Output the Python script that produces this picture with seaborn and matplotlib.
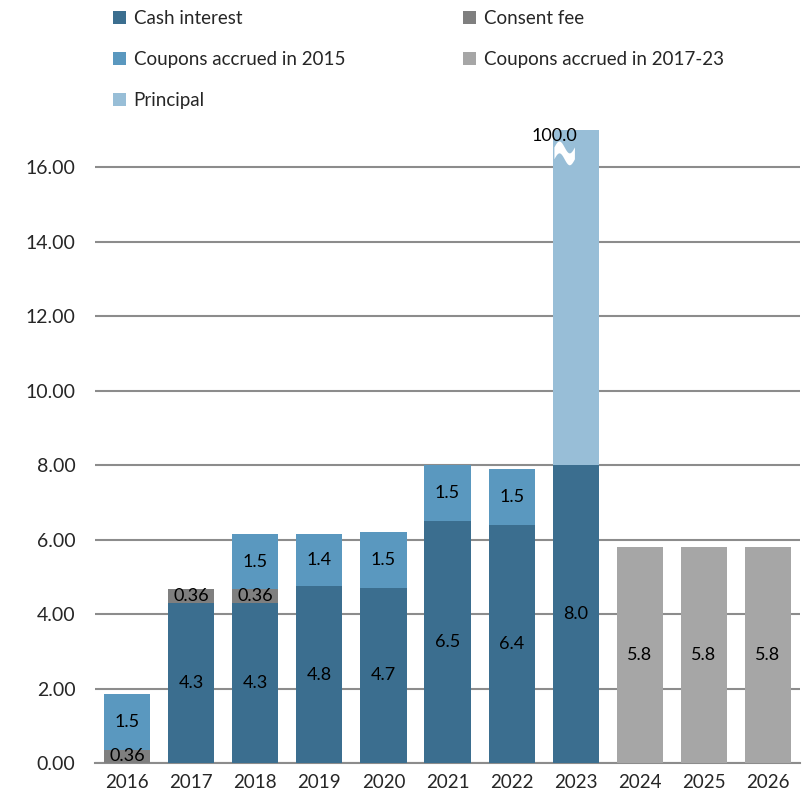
import numpy as np
import pandas as pd
import seaborn as sns
import matplotlib.pyplot as plt

# data
years = ["2016", "2017", "2018", "2019", "2020", "2021", "2022", "2023", "2024", "2025", "2026"]
cash_interest = [0, 4.3, 4.3, 4.75, 4.7, 6.5, 6.4, 8.0, 0, 0, 0]
consent_fee = [0.36, 0.36, 0.36, 0, 0, 0, 0, 0, 0, 0, 0]
coupons_2015 = [1.5, 0, 1.5, 1.4, 1.5, 1.5, 1.5, 0, 0, 0, 0]
coupons_2017_23 = [0, 0, 0, 0, 0, 0, 0, 0, 5.8, 5.8, 5.8]
principal = [0, 0, 0, 0, 0, 0, 0, 100.0, 0, 0, 0]

series = [
    ("Cash interest", cash_interest, "#3B6E8F"),
    ("Consent fee", consent_fee, "#7F7F7F"),
    ("Coupons accrued in 2015", coupons_2015, "#5A98BF"),
    ("Coupons accrued in 2017-23", coupons_2017_23, "#A6A6A6"),
    ("Principal", principal, "#98BED7"),
]

sns.set_style("white")
plt.rcParams["font.family"] = ["Lato", "DejaVu Sans"]

fig = plt.figure(figsize=(8.02, 8.0), dpi=100)
ax = fig.add_axes([0.1185, 0.0463, 0.879, 0.791])

YMAX = 17.0
bottom = np.zeros(len(years))
for name, vals, color in series:
    vals = np.array(vals, dtype=float)
    df = pd.DataFrame({"year": years, "val": vals})
    sns.barplot(data=df, x="year", y="val", order=years, color=color,
                bottom=bottom, width=0.72, ax=ax, label=name, legend=False,
                saturation=1, edgecolor="none", linewidth=0, zorder=3)
    for i, v in enumerate(vals):
        if v <= 0:
            continue
        if name == "Principal":
            ax.text(i - 0.34, 16.83, f"{v:.1f}", ha="center", va="center",
                    fontsize=13, color="black", zorder=6)
        else:
            txt = f"{v:.2f}" if v < 1 else f"{v:.1f}"
            ax.text(i, bottom[i] + v / 2, txt, ha="center", va="center",
                    fontsize=13, color="black", zorder=6)
    bottom += vals

if ax.get_legend() is not None:
    ax.get_legend().remove()

# axis break mark on the clipped principal bar
i23 = years.index("2023")
xs = np.linspace(i23 - 0.34, i23 - 0.02, 60)
ph = (xs - xs[0]) / (xs[-1] - xs[0]) * 2 * np.pi
top_edge = 16.55 + 0.16 * np.sin(ph)
ax.fill_between(xs, top_edge - 0.32, top_edge, color="white", zorder=5,
                linewidth=0)

ax.set_ylim(0, YMAX)
ax.set_xlim(-0.5, 10.5)
ax.set_yticks(np.arange(0, 17, 2))
ax.set_yticklabels([f"{t:.2f}" for t in np.arange(0, 17, 2)], fontsize=14)
ax.tick_params(axis="x", labelsize=13.5, length=0, pad=8)
ax.tick_params(axis="y", length=0, pad=14)
ax.set_xlabel("")
ax.set_ylabel("")
ax.yaxis.grid(True, color="#8C8C8C", linewidth=1.5, zorder=0)
ax.set_axisbelow(True)
for s in ["top", "right", "left"]:
    ax.spines[s].set_visible(False)
ax.spines["bottom"].set_color("#8C8C8C")
ax.spines["bottom"].set_linewidth(1.5)

handles, labels = ax.get_legend_handles_labels()
lookup = dict(zip(labels, handles))
col_order = ["Cash interest", "Coupons accrued in 2015", "Principal",
             "Consent fee", "Coupons accrued in 2017-23"]
fig.legend([lookup[k] for k in col_order], col_order, loc="upper left",
           bbox_to_anchor=(0.12, 1.009), ncol=2, frameon=False, fontsize=13.5,
           handlelength=0.7, handleheight=0.7, handletextpad=0.4,
           columnspacing=6.3, labelspacing=1.3)

fig.savefig("out.png", dpi=100)
